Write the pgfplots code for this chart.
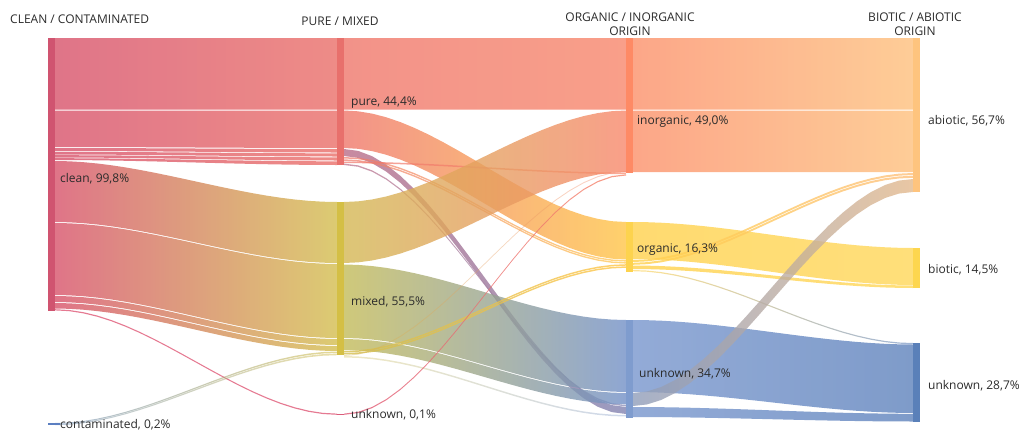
\documentclass[border=0pt]{standalone}
\usepackage{pgfplots}
\pgfplotsset{compat=1.18}
\usepackage{fontspec}
\setmainfont{Open Sans}
% node colours
\definecolor{nClean}{HTML}{D05470}
\definecolor{nCont}{HTML}{5B7FC1}
\definecolor{nPure}{HTML}{E8706C}
\definecolor{nMixed}{HTML}{D4BF45}
\definecolor{nUnk2}{HTML}{D95C7A}
\definecolor{nInorg}{HTML}{FE8A65}
\definecolor{nOrg}{HTML}{FDD34E}
\definecolor{nUnk3}{HTML}{7F9CCE}
\definecolor{nAbio}{HTML}{FEC47E}
\definecolor{nBio}{HTML}{FDD64F}
\definecolor{nUnk4}{HTML}{5A80B9}
% flow colours
\definecolor{fCl}{HTML}{D7526A}
\definecolor{fPuR}{HTML}{EA6F69}
\definecolor{fPuL}{HTML}{EF776B}
\definecolor{fMxR}{HTML}{D3BE4F}
\definecolor{fMxL}{HTML}{D3B854}
\definecolor{fMxG}{HTML}{C3BB59}
\definecolor{fInR}{HTML}{F7876B}
\definecolor{fInL}{HTML}{FB906A}
\definecolor{fAb}{HTML}{FEC07D}
\definecolor{fOrR}{HTML}{FFC548}
\definecolor{fOrL}{HTML}{FFD14C}
\definecolor{fBi}{HTML}{FFD759}
\definecolor{fU3R}{HTML}{7290C7}
\definecolor{fU3L}{HTML}{7896CD}
\definecolor{fU4}{HTML}{5E82BC}
\definecolor{fTanL}{HTML}{8F9DBA}
\definecolor{fTanR}{HTML}{E3B98D}
\definecolor{fMauL}{HTML}{BA6D88}
\definecolor{fMauR}{HTML}{8183B1}
\definecolor{fCoL}{HTML}{7392BA}
\definecolor{fPink}{HTML}{DF5977}
\definecolor{txt}{HTML}{2B2B2B}

% smoothstep profile of a sankey link
\def\profile{0/0,0.05/0.00725,0.1/0.028,0.15/0.06075,0.2/0.104,0.25/0.15625,0.3/0.216,0.35/0.28175,0.4/0.352,0.45/0.42525,0.5/0.5,0.55/0.57475,0.6/0.648,0.65/0.71825,0.7/0.784,0.75/0.84375,0.8/0.896,0.85/0.93925,0.9/0.972,0.95/0.99275,1/1}
\def\profilerev{1/1,0.95/0.99275,0.9/0.972,0.85/0.93925,0.8/0.896,0.75/0.84375,0.7/0.784,0.65/0.71825,0.6/0.648,0.55/0.57475,0.5/0.5,0.45/0.42525,0.4/0.352,0.35/0.28175,0.3/0.216,0.25/0.15625,0.2/0.104,0.15/0.06075,0.1/0.028,0.05/0.00725,0/0}
% \band[opacity]{x1}{x2}{top1}{bot1}{top2}{bot2}{colour1}{colour2}
\newcommand{\band}[9][0.8]{%
  \gdef\pts{}%
  \foreach \u/\s in \profile {%
    \pgfmathsetmacro\xx{#2+\u*(#3-#2)}%
    \pgfmathsetmacro\yy{#4+\s*(#6-#4)}%
    \xdef\pts{\pts(\xx,\yy)}%
  }%
  \foreach \u/\s in \profilerev {%
    \pgfmathsetmacro\xx{#2+\u*(#3-#2)}%
    \pgfmathsetmacro\yy{#5+\s*(#7-#5)}%
    \xdef\pts{\pts(\xx,\yy)}%
  }%
  \edef\doplot{\noexpand\addplot[draw=none,fill opacity=#1,left color=#8,right color=#9] coordinates {\pts};}%
  \doplot
}
% \nodebar{x1}{x2}{top}{bottom}{colour}
\newcommand{\nodebar}[5]{%
  \addplot[draw=none,fill=#5] coordinates {(#1,#3)(#2,#3)(#2,#4)(#1,#4)};
}

\begin{document}
\begin{tikzpicture}[every node/.style={font=\fontsize{12}{14}\selectfont,text=txt,inner sep=0pt}]
\begin{axis}[scale only axis,width=1023pt,height=429pt,
  xmin=0,xmax=1023,ymin=0,ymax=429,y dir=reverse,hide axis,clip=false]
% ---- stage 1 -> 2
\band{55}{337}{38}{109.5}{38}{109.5}{fCl}{fPuR}
\band{55}{337}{110.5}{147}{110.5}{148}{fCl}{fPuR}
\band{55}{337}{148}{151}{149}{152.5}{fCl}{fPuR}
\band{55}{337}{151.8}{154.5}{153.3}{156.5}{fCl}{fPuR}
\band{55}{337}{155.2}{157.5}{157.3}{160.5}{fCl}{fPuR}
\band{55}{337}{158.2}{160}{161.3}{165}{fCl}{fPuR}
\band{55}{337}{161}{222}{202}{263}{fCl}{fMxR}
\band{55}{337}{223}{295}{264}{338}{fCl}{fMxR}
\band{55}{337}{296}{302}{339}{345}{fCl}{fMxR}
\band{55}{337}{303}{308.5}{346}{351}{fCl}{fMxR}
\band{55}{337}{309.2}{310.4}{413.6}{414.8}{fPink}{fPink}
\band[0.6]{55}{337}{423}{424}{351.5}{353}{fCoL}{fMxR}
\band[0.5]{55}{337}{424.2}{425.2}{353.6}{355.2}{fCoL}{fMxR}
% ---- stage 2 -> 3
\band{344}{626}{38}{109.5}{38}{109.5}{fPuL}{fInR}
\band{344}{626}{110.5}{148}{222}{259.5}{fPuL}{fOrR}
\band{344}{626}{149}{156}{407}{414}{fMauL}{fMauR}
\band[0.7]{344}{626}{157}{158.5}{260.2}{261.6}{fPuL}{fOrR}
\band[0.7]{344}{626}{159.3}{160.8}{262.2}{263.6}{fPuL}{fOrR}
\band[0.7]{344}{626}{161.6}{163.1}{172.6}{174.1}{fPuL}{fInR}
\band[0.7]{344}{626}{163.6}{165}{405}{406.4}{fMauL}{fMauR}
\band{344}{626}{202}{263}{110.5}{172}{fMxL}{fInR}
\band{344}{626}{264.5}{338}{320}{392}{fMxG}{fU3R}
\band{344}{626}{339}{350}{393}{404.3}{fMxG}{fU3R}
\band{344}{626}{351}{352.5}{264.2}{265.7}{fMxR}{fOrR}
\band{344}{626}{353}{354.5}{266.3}{267.8}{fMxR}{fOrR}
\band[0.4]{344}{626}{355}{356}{171}{172}{fMxL}{fInR}
\band[0.35]{344}{626}{356}{357.5}{415}{416.5}{fMxR}{fU3R}
\band{344}{626}{413.6}{414.8}{174.3}{175.5}{fPink}{fInR}
% ---- stage 3 -> 4
\band{633}{913}{38}{109.5}{38}{109.5}{fInL}{fAb}
\band{633}{913}{110.5}{172}{110.5}{172}{fInL}{fAb}
\band{633}{913}{222}{259}{248}{285}{fOrL}{fBi}
\band{633}{913}{260}{262}{173}{175}{fOrL}{fAb}
\band{633}{913}{262.8}{264.8}{175.8}{177.8}{fOrL}{fAb}
\band{633}{913}{265.5}{269}{285.5}{288}{fOrL}{fBi}
\band[0.6]{633}{913}{270}{271.2}{343}{344.2}{fOrL}{fU4}
\band{633}{913}{320}{392}{344.5}{413}{fU3L}{fU4}
\band{633}{913}{393}{406}{179}{192}{fTanL}{fTanR}
\band{633}{913}{407}{417}{413.8}{421.5}{fU3L}{fU4}
% ---- nodes
\nodebar{48}{55}{38}{311}{nClean}
\nodebar{48}{60}{423.3}{424.8}{nCont}
\nodebar{337}{344}{38}{165}{nPure}
\nodebar{337}{344}{202}{355}{nMixed}
\nodebar{337}{344}{413.5}{415}{nUnk2}
\nodebar{626}{633}{38}{173}{nInorg}
\nodebar{626}{633}{222}{272}{nOrg}
\nodebar{626}{633}{320}{418}{nUnk3}
\nodebar{913}{920}{38}{192}{nAbio}
\nodebar{913}{920}{248}{288}{nBio}
\nodebar{913}{920}{343}{422}{nUnk4}
% ---- titles
\node[anchor=base west] at (axis cs:10,23) {CLEAN / CONTAMINATED};
\node[anchor=base] at (axis cs:340,25) {PURE / MIXED};
\node[anchor=base] at (axis cs:630,21) {ORGANIC / INORGANIC};
\node[anchor=base] at (axis cs:630,35) {ORIGIN};
\node[anchor=base] at (axis cs:915,21) {BIOTIC / ABIOTIC};
\node[anchor=base] at (axis cs:915,35) {ORIGIN};
% ---- labels
\node[anchor=base west] at (axis cs:60,182) {clean, 99,8\%};
\node[anchor=base west] at (axis cs:60,428) {contaminated, 0,2\%};
\node[anchor=base west] at (axis cs:351,105) {pure, 44,4\%};
\node[anchor=base west] at (axis cs:351,305) {mixed, 55,5\%};
\node[anchor=base west] at (axis cs:351,418) {unknown, 0,1\%};
\node[anchor=base west] at (axis cs:637,124) {inorganic, 49,0\%};
\node[anchor=base west] at (axis cs:637,252) {organic, 16,3\%};
\node[anchor=base west] at (axis cs:639,377) {unknown, 34,7\%};
\node[anchor=base west] at (axis cs:928,124) {abiotic, 56,7\%};
\node[anchor=base west] at (axis cs:928,273) {biotic, 14,5\%};
\node[anchor=base west] at (axis cs:928,389) {unknown, 28,7\%};
\end{axis}
\pgfresetboundingbox
\path (current axis.south west) rectangle (current axis.north east);
\end{tikzpicture}
\end{document}
